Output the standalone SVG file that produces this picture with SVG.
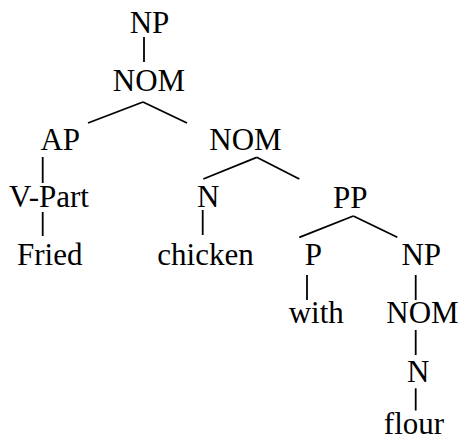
<svg xmlns="http://www.w3.org/2000/svg" width="461" height="441" viewBox="0 0 461 441">
<style>
text{font-family:"Liberation Serif","Times New Roman",serif;font-size:31px;fill:#000;text-anchor:middle}
line{stroke:#000;stroke-width:1.8;stroke-linecap:butt}
</style>
<rect width="461" height="441" fill="#fff"/>
<g id="connectors">
<line x1="144" y1="37" x2="144" y2="62"/>
<line x1="143" y1="102" x2="88" y2="123"/>
<line x1="143" y1="102" x2="187" y2="123"/>
<line x1="42.7" y1="157" x2="42.7" y2="183"/>
<line x1="42.7" y1="212" x2="42.7" y2="236"/>
<line x1="256.7" y1="157.3" x2="203.3" y2="179"/>
<line x1="256.7" y1="157.3" x2="299.3" y2="179"/>
<line x1="202.7" y1="210" x2="202.7" y2="235"/>
<line x1="353.3" y1="216" x2="299.3" y2="237.3"/>
<line x1="353.3" y1="216" x2="397.3" y2="237.3"/>
<line x1="307" y1="275" x2="307" y2="300"/>
<line x1="415.7" y1="275" x2="415.7" y2="300"/>
<line x1="415.7" y1="330" x2="415.7" y2="355"/>
<line x1="415.7" y1="388.3" x2="415.7" y2="410.5"/>
</g>
<g id="np1"><text x="149.5" y="33">NP</text></g>
<g id="nom1"><text x="149" y="91">NOM</text></g>
<g id="ap"><text x="60.3" y="150">AP</text></g>
<g id="vpart"><text x="49" y="207">V-Part</text></g>
<g id="fried"><text x="49.7" y="265">Fried</text></g>
<g id="nom2"><text x="245.5" y="150">NOM</text></g>
<g id="n1"><text x="208.3" y="207">N</text></g>
<g id="chicken"><text x="205.5" y="265">chicken</text></g>
<g id="pp"><text x="350.3" y="208">PP</text></g>
<g id="p"><text x="313.3" y="265">P</text></g>
<g id="with"><text x="316.3" y="323">with</text></g>
<g id="np2"><text x="421.2" y="265">NP</text></g>
<g id="nom3"><text x="422.5" y="323">NOM</text></g>
<g id="n2"><text x="418.3" y="381.5">N</text></g>
<g id="flour"><text x="414" y="434">flour</text></g>
</svg>
